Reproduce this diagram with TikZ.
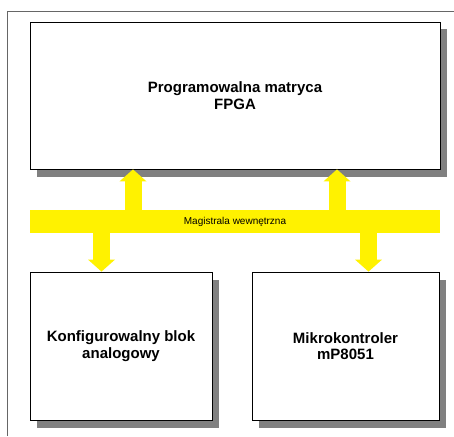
\documentclass[tikz,border=0pt]{standalone}
\usepackage{fontspec}
\setmainfont{Liberation Sans}
\usepackage{tikz}
\usetikzlibrary{arrows.meta,shadows}

\tikzset{
  blok/.style={draw=black, line width=0.8pt, fill=white, align=center,
    font=\fontsize{15}{16.5}\selectfont\bfseries,
    drop shadow={shadow xshift=7pt, shadow yshift=-7.5pt, fill=gray, opacity=1}},
  szyna/.style={draw=yellow, line width=17pt,
    -{Triangle[width=27pt,length=12pt,line width=0pt,fill=yellow]}},
  rama/.style={draw=black!60, line width=0.9pt}
}

\begin{document}
\begin{tikzpicture}[x=1pt,y=1pt,yscale=-1,xscale=1]
        \useasboundingbox (0,0) rectangle (454,436);
        
        % Frame
        \draw [rama] (7,436) -- (7,11) -- (454,11);
        
        % Blocks
        \node [blok, minimum width=410pt, minimum height=147pt] (fpga) at (235,95.5) {Programowalna matryca\\FPGA};
        \node [blok, minimum width=182pt, minimum height=148pt] (analog) at (121,346) {Konfigurowalny blok\\analogowy};
        \node [blok, minimum width=187pt, minimum height=148pt] (mikro) at (345.5,346) {Mikrokontroler\\mP8051};
        
        % Bus
        \node [fill=yellow, minimum width=410pt, minimum height=23pt, inner sep=0pt, font=\fontsize{10}{12}\selectfont] (bus) at (235,221.5) {Magistrala wewnętrzna};
        
        % Arrows
        \coordinate (x1) at (133,0);
        \coordinate (x2) at (337,0);
        \coordinate (x3) at (101.5,0);
        \coordinate (x4) at (368.5,0);
        \draw [szyna] (x1 |- bus.north) -- (x1 |- fpga.south);
        \draw [szyna] (x2 |- bus.north) -- (x2 |- fpga.south);
        \draw [szyna] (x3 |- bus.south) -- (x3 |- analog.north);
        \draw [szyna] (x4 |- bus.south) -- (x4 |- mikro.north);
        
\end{tikzpicture}
\end{document}
